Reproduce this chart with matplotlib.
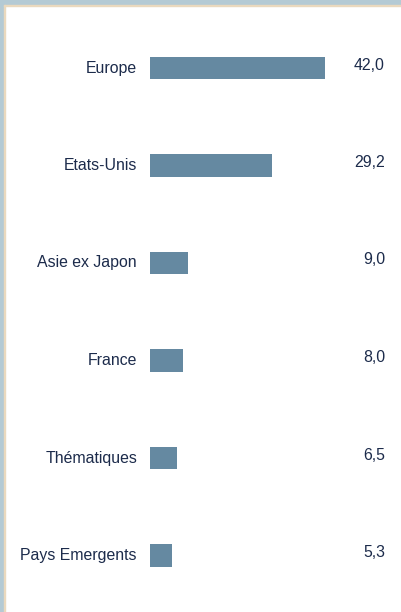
import matplotlib

matplotlib.use("Agg")
import matplotlib.pyplot as plt
from matplotlib.patches import Rectangle

# ---- Data ------------------------------------------------------------------
categories = ["Europe", "Etats-Unis", "Asie ex Japon", "France",
              "Thématiques", "Pays Emergents"]
values = [42.0, 29.2, 9.0, 8.0, 6.5, 5.3]
value_labels = ["42,0", "29,2", "9,0", "8,0", "6,5", "5,3"]

# ---- Style -----------------------------------------------------------------
BAR = "#6589A1"
INK = "#1C2B4B"
FRAME = "#B4CAD4"
BEIGE = "#EAD9BE"

plt.rcParams.update({
    "font.family": ["Liberation Sans", "DejaVu Sans"],
    "font.size": 11.4,
})

W, H = 402, 612
fig = plt.figure(figsize=(W / 100, H / 100), dpi=100, facecolor="white")

# light blue frame on top and left edges, with a thin beige inner line
fig.patches.append(Rectangle((0, 1 - 5 / H), 1, 5 / H, transform=fig.transFigure,
                             color=FRAME, zorder=0))
fig.patches.append(Rectangle((0, 0), 4 / W, 1, transform=fig.transFigure,
                             color=FRAME, zorder=0))
fig.patches.append(Rectangle((4 / W, 1 - 6 / H), 1, 1 / H, transform=fig.transFigure,
                             color=BEIGE, zorder=0))
fig.patches.append(Rectangle((4 / W, 0), 1 / W, 1 - 5 / H, transform=fig.transFigure,
                             color=BEIGE, zorder=0))

# axes placed in pixel terms: x=0 at 150px, 42 units ~ 175px
left_px, width_px = 150, 200
top_px, bottom_px = 19.25, 604.25
ax = fig.add_axes([left_px / W, 1 - bottom_px / H, width_px / W,
                   (bottom_px - top_px) / H])
ax.set_facecolor("none")

y = list(range(len(categories)))
ax.barh(y, values, height=0.235, color=BAR)
ax.set_xlim(0, width_px * 42.0 / 175)
ax.set_ylim(len(categories) - 0.5, -0.5)

PX = 72 / 100  # points per pixel
for yi, cat, lab in zip(y, categories, value_labels):
    ax.annotate(cat, xy=(0, yi), xycoords="data",
                xytext=(-13 * PX, 0), textcoords="offset points",
                ha="right", va="center", color=INK)
    ax.annotate(lab, xy=(1, yi), xycoords=("axes fraction", "data"),
                xytext=(35 * PX, 3 * PX), textcoords="offset points",
                ha="right", va="center", color=INK)

ax.axis("off")

fig.savefig("out.png", dpi=100, facecolor="white")
